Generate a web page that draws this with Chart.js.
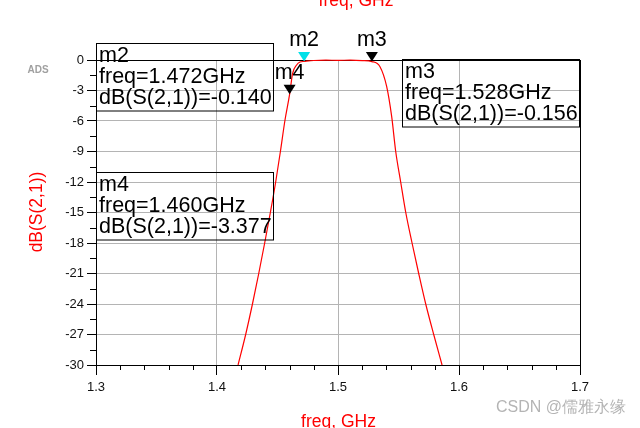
<!DOCTYPE html>
<html>
<head>
<meta charset="utf-8">
<script src="https://cdn.jsdelivr.net/npm/chart.js@4.4.1/dist/chart.umd.min.js"></script>
<style>
  html, body { margin: 0; padding: 0; background: #fff; }
  #wrap { width: 640px; height: 428px; position: relative; }
</style>
</head>
<body>
<div id="wrap"><canvas id="s21"></canvas></div>
<script>
// S21 sweep
const freqGHz = [1.4174, 1.4237, 1.4293, 1.4345, 1.4394, 1.4441, 1.4485, 1.4524, 1.4562, 1.4600,
                 1.4625, 1.4658, 1.4686, 1.4720, 1.4800, 1.4900, 1.5000, 1.5100, 1.5200, 1.5280,
                 1.5347, 1.5402, 1.5444, 1.5477, 1.5518, 1.5560, 1.5612, 1.5667, 1.5725, 1.5791, 1.5860];
const s21dB = [-30, -27, -24, -21, -18, -15, -12, -9, -5.9, -3.377,
               -1.31, -0.49, -0.2, -0.14, -0.05, -0.02, -0.03, -0.02, -0.06, -0.156,
               -0.66, -2.6, -5.6, -9, -12, -15, -18, -21, -24, -27, -30];

// markers
const markerNames = ['m2', 'm3', 'm4'];
const markerFreq = [1.472, 1.528, 1.460];
const markerDb = [-0.140, -0.156, -3.377];
const markerColors = ['#00e0e8', '#000000', '#000000'];

const xTicks = [1.3, 1.4, 1.5, 1.6, 1.7];
const yTicks = [0, -3, -6, -9, -12, -15, -18, -21, -24, -27, -30];

const FONT = "'Liberation Sans', Arial, sans-serif";

// where the readout boxes sit (left, top), same order as markers
const readoutBoxes = [[96.5, 43.5], [402.5, 59.5], [96.5, 172.5]];

const adsPlugin = {
    id: 'ads',
    beforeDatasetsDraw(chart) {
        const {ctx, chartArea: a, scales: {x, y}} = chart;
        ctx.save();
        // frame
        ctx.strokeStyle = '#000';
        ctx.lineWidth = 1;
        ctx.strokeRect(Math.round(a.left) + 0.5, Math.round(a.top) + 0.5,
            Math.round(a.right - a.left), Math.round(a.bottom - a.top));
        // minor ticks
        ctx.beginPath();
        for (let f = 1.32; f < 1.7; f += 0.02) {
            if (Math.abs(f * 10 - Math.round(f * 10)) < 1e-6) continue;
            const px = Math.round(x.getPixelForValue(f)) + 0.5;
            ctx.moveTo(px, a.bottom);
            ctx.lineTo(px, a.bottom + 5);
        }
        for (let v = -1.5; v > -30; v -= 3) {
            const py = Math.round(y.getPixelForValue(v)) + 0.5;
            ctx.moveTo(a.left - 6, py);
            ctx.lineTo(a.left, py);
        }
        ctx.stroke();
        ctx.restore();
    },
    afterDraw(chart) {
        const {ctx, scales: {x, y}} = chart;
        ctx.save();

        // axis titles
        ctx.fillStyle = '#ff0000';
        ctx.font = `17.5px ${FONT}`;
        ctx.textAlign = 'center';
        ctx.textBaseline = 'alphabetic';
        ctx.fillText('freq, GHz', 338.5, 427);
        ctx.fillText('freq, GHz', 356, 6);
        ctx.save();
        ctx.translate(42, 212);
        ctx.rotate(-Math.PI / 2);
        ctx.fillText('dB(S(2,1))', 0, 0);
        ctx.restore();

        // ADS tag and watermark
        ctx.fillStyle = '#a0a0a0';
        ctx.font = `bold 10px ${FONT}`;
        ctx.textAlign = 'center';
        ctx.textBaseline = 'middle';
        ctx.fillText('ADS', 38, 70);
        ctx.fillStyle = '#b4b4b4';
        ctx.font = `16px ${FONT}`;
        ctx.textAlign = 'right';
        ctx.fillText('CSDN @儒雅永缘', 626, 408);

        // markers
        markerNames.forEach((name, i) => {
            const px = x.getPixelForValue(markerFreq[i]);
            const py = y.getPixelForValue(markerDb[i]);
            ctx.fillStyle = markerColors[i];
            ctx.beginPath();
            ctx.moveTo(px - 6, py - 9.5);
            ctx.lineTo(px + 6, py - 9.5);
            ctx.lineTo(px, py);
            ctx.closePath();
            ctx.fill();
            ctx.fillStyle = '#000';
            ctx.font = `21.5px ${FONT}`;
            ctx.textAlign = 'center';
            ctx.textBaseline = 'alphabetic';
            ctx.fillText(name, px, py - 15.5);

            // readout
            const [bx, by] = readoutBoxes[i];
            ctx.strokeStyle = '#000';
            ctx.lineWidth = 1;
            ctx.strokeRect(bx, by, 177, 67.5);
            ctx.textAlign = 'left';
            ctx.fillText(name, bx + 2.5, by + 18);
            ctx.fillText(`freq=${markerFreq[i].toFixed(3)}GHz`, bx + 2.5, by + 39.5);
            ctx.fillText(`dB(S(2,1))=${markerDb[i].toFixed(3)}`, bx + 2.5, by + 60.5);
        });
        ctx.restore();
    }
};

const points = freqGHz.map((f, i) => ({x: f, y: s21dB[i]}));

new Chart(document.getElementById('s21'), {
    type: 'line',
    data: {
        datasets: [{
            data: points,
            borderColor: '#ff0000',
            borderWidth: 1.2,
            pointRadius: 0,
            cubicInterpolationMode: 'monotone',
            clip: false
        }]
    },
    options: {
        responsive: true,
        maintainAspectRatio: false,
        animation: false,
        layout: {padding: {left: 0, top: 60, right: 60, bottom: 0}},
        plugins: {legend: {display: false}, tooltip: {enabled: false}},
        scales: {
            x: {
                type: 'linear',
                min: 1.3,
                max: 1.7,
                afterBuildTicks: s => { s.ticks = xTicks.map(v => ({value: v})); },
                afterFit: s => { s.height = 63; },
                ticks: {
                    color: '#111',
                    font: {family: FONT, size: 13},
                    padding: 5,
                    maxRotation: 0,
                    callback: v => v.toFixed(1)
                },
                grid: {color: '#b4b4b4', lineWidth: 1, tickColor: '#000', tickLength: 10},
                border: {color: '#000'}
            },
            y: {
                min: -30,
                max: 0,
                afterBuildTicks: s => { s.ticks = yTicks.map(v => ({value: v})); },
                afterFit: s => { s.width = 96; },
                ticks: {
                    color: '#111',
                    font: {family: FONT, size: 13},
                    padding: 3,
                    callback: v => String(v)
                },
                grid: {color: '#b4b4b4', lineWidth: 1, tickColor: '#000', tickLength: 9},
                border: {color: '#000'}
            }
        }
    },
    plugins: [adsPlugin]
});
</script>
</body>
</html>
